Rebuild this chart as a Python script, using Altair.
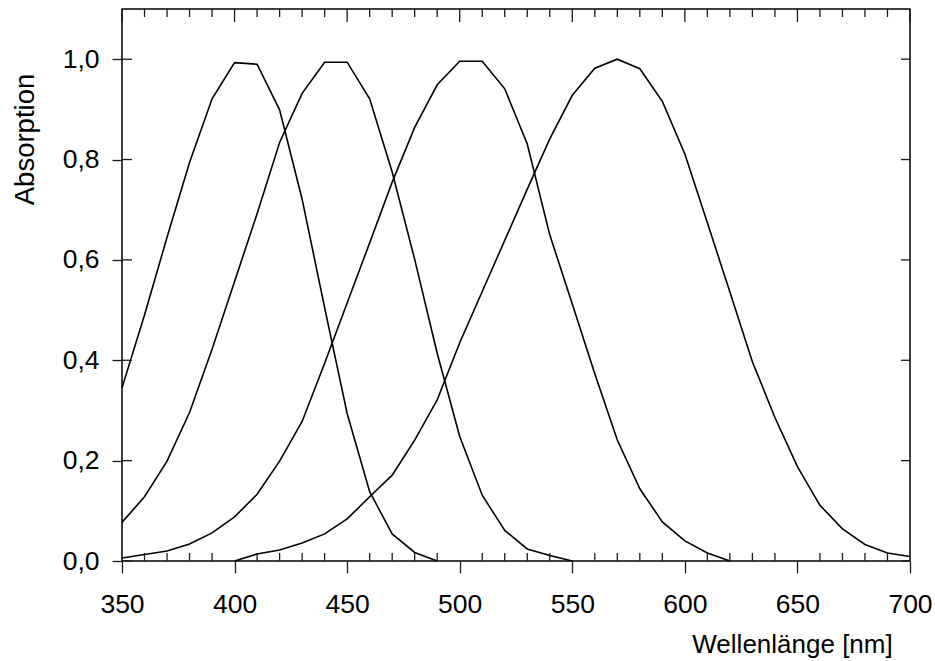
import altair as alt
import pandas as pd

# ---- data ----
wl_1 = [350, 360, 370, 380, 390, 400, 410, 420, 430, 440, 450, 460, 470, 480, 490]
abs_1 = [0.345, 0.49, 0.645, 0.794, 0.921, 0.993, 0.990, 0.899, 0.721, 0.505, 0.294, 0.138, 0.054, 0.017, 0.0]

wl_2 = [350, 360, 370, 380, 390, 400, 410, 420, 430, 440, 450, 460, 470, 480, 490, 500, 510, 520, 530, 540, 550]
abs_2 = [0.077, 0.128, 0.199, 0.296, 0.422, 0.557, 0.692, 0.834, 0.932, 0.994, 0.994, 0.921, 0.775, 0.601, 0.414,
         0.248, 0.131, 0.061, 0.024, 0.011, 0.0]

wl_3 = [350, 360, 370, 380, 390, 400, 410, 420, 430, 440, 450, 460, 470, 480, 490, 500, 510, 520, 530, 540,
        550, 560, 570, 580, 590, 600, 610, 620]
abs_3 = [0.006, 0.013, 0.020, 0.034, 0.056, 0.088, 0.133, 0.199, 0.278, 0.394, 0.514, 0.634, 0.755, 0.864, 0.949,
         0.996, 0.996, 0.941, 0.831, 0.650, 0.512, 0.373, 0.241, 0.144, 0.078, 0.040, 0.016, 0.0]

wl_4 = [400, 410, 420, 430, 440, 450, 460, 470, 480, 490, 500, 510, 520, 530, 540, 550, 560, 570, 580, 590,
        600, 610, 620, 630, 640, 650, 660, 670, 680, 690, 700]
abs_4 = [0.0, 0.014, 0.022, 0.036, 0.054, 0.084, 0.128, 0.171, 0.241, 0.321, 0.435, 0.537, 0.639, 0.741, 0.841,
         0.928, 0.982, 1.0, 0.981, 0.916, 0.811, 0.674, 0.536, 0.397, 0.286, 0.188, 0.111, 0.064, 0.033, 0.016, 0.009]

x_major_ticks = [350, 400, 450, 500, 550, 600, 650, 700]
x_minor_ticks = [360, 370, 380, 390, 410, 420, 430, 440, 460, 470, 480, 490, 510, 520, 530, 540,
                 560, 570, 580, 590, 610, 620, 630, 640, 660, 670, 680, 690]
y_major_ticks = [0.0, 0.2, 0.4, 0.6, 0.8, 1.0]

# ---- tables ----
rows = []
for name, wl, ab in [("c1", wl_1, abs_1), ("c2", wl_2, abs_2), ("c3", wl_3, abs_3), ("c4", wl_4, abs_4)]:
    for w, a in zip(wl, ab):
        rows.append({"curve": name, "w": w, "a": a})
df = pd.DataFrame(rows)
df_xmaj = pd.DataFrame({"w": x_major_ticks})
df_xmin = pd.DataFrame({"w": x_minor_ticks})
df_ymaj = pd.DataFrame({"a": y_major_ticks})

W, H = 788, 552
FONT = "Liberation Sans"
TICK_COLOR = "#1a1a1a"

xscale = alt.Scale(domain=[350, 700], nice=False, zero=False)
yscale = alt.Scale(domain=[0, 1.1], nice=False, zero=False)

lines = alt.Chart(df).mark_line(color="black", strokeWidth=1.6).encode(
    x=alt.X("w:Q", scale=xscale,
            axis=alt.Axis(values=x_major_ticks, title="Wellenlänge [nm]", domain=False, grid=False,
                          tickSize=12, tickWidth=1.3, tickColor=TICK_COLOR,
                          labelFont=FONT, labelFontSize=26.5, labelColor="black",
                          labelBaseline="alphabetic", labelPadding=39, labelFlush=False,
                          titleFont=FONT, titleFontSize=26, titleFontWeight="normal", titleColor="black",
                          titleX=670, titleY=91, titleAlign="center", titleBaseline="alphabetic")),
    y=alt.Y("a:Q", scale=yscale,
            axis=alt.Axis(values=y_major_ticks, title="Absorption", domain=False, grid=False,
                          tickSize=10, tickWidth=1.3, tickColor=TICK_COLOR,
                          labelExpr="replace(format(datum.value, '.1f'), '.', ',')",
                          labelFont=FONT, labelFontSize=26.5, labelColor="black",
                          labelPadding=13, labelFlush=False,
                          titleFont=FONT, titleFontSize=27.5, titleFontWeight="normal", titleColor="black",
                          titleAngle=270, titleX=-89, titleY=130, titleAlign="center",
                          titleBaseline="alphabetic")),
    detail="curve:N",
)

rule_kw = dict(color=TICK_COLOR, strokeWidth=1.3)

bottom_minor = alt.Chart(df_xmin).mark_rule(**rule_kw).encode(
    x=alt.X("w:Q", scale=xscale), y=alt.value(H), y2=alt.value(H - 8))
top_minor = alt.Chart(df_xmin).mark_rule(**rule_kw).encode(
    x=alt.X("w:Q", scale=xscale), y=alt.value(0), y2=alt.value(8))
top_major = alt.Chart(df_xmaj).mark_rule(**rule_kw).encode(
    x=alt.X("w:Q", scale=xscale), y=alt.value(0), y2=alt.value(13))
left_inner = alt.Chart(df_ymaj).mark_rule(**rule_kw).encode(
    y=alt.Y("a:Q", scale=yscale), x=alt.value(0), x2=alt.value(10))
right_inner = alt.Chart(df_ymaj).mark_rule(**rule_kw).encode(
    y=alt.Y("a:Q", scale=yscale), x=alt.value(W), x2=alt.value(W - 9))

chart = alt.layer(lines, bottom_minor, top_minor, top_major, left_inner, right_inner).properties(
    width=W, height=H,
    autosize=alt.AutoSizeParams(type="none"),
    padding={"left": 122, "top": 9, "right": 935 - 122 - W, "bottom": 661 - 9 - H},
    background="white",
).configure_view(stroke="black", strokeWidth=1.5)

chart.save("out.html", embed_options={"renderer": "svg", "actions": False})
